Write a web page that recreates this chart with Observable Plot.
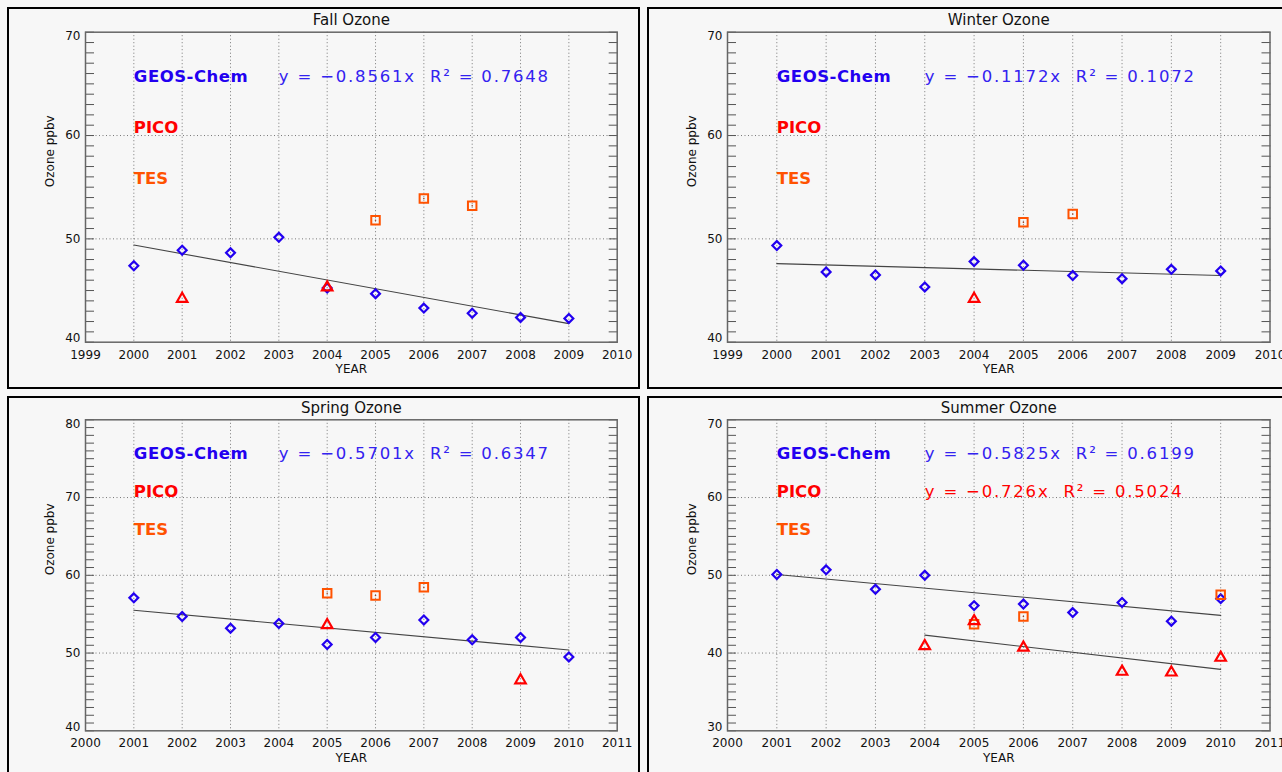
<!DOCTYPE html>
<html><head><meta charset="utf-8">
<script src="https://cdn.jsdelivr.net/npm/d3@7"></script>
<script src="https://cdn.jsdelivr.net/npm/@observablehq/plot@0.6"></script>
<style>
html,body{margin:0;padding:0;background:#f7f7f7;overflow:hidden;width:1282px;height:772px;font-family:"DejaVu Sans",sans-serif;}
.panel{position:absolute;border:2.5px solid #000;box-sizing:border-box;background:#f7f7f7;}
.plot{position:absolute;}
</style></head><body>
<script>
// ---------- DATA ----------
// Fall
const fallGeosYears = [2000,2001,2002,2003,2004,2005,2006,2007,2008,2009];
const fallGeos      = [47.4,48.9,48.65,50.15,45.25,44.7,43.3,42.8,42.4,42.3];
const fallPicoYears = [2001,2004];
const fallPico      = [44.2,45.3];
const fallTesYears  = [2005,2006,2007];
const fallTes       = [51.8,53.9,53.2];
const fallTrendYears = [2000,2009];
const fallTrend      = [49.4,41.8];
// Winter
const winterGeosYears = [2000,2001,2002,2003,2004,2005,2006,2007,2008,2009];
const winterGeos      = [49.35,46.8,46.5,45.35,47.8,47.45,46.45,46.15,47.05,46.9];
const winterPicoYears = [2004];
const winterPico      = [44.2];
const winterTesYears  = [2005,2006];
const winterTes       = [51.6,52.4];
const winterTrendYears = [2000,2009];
const winterTrend      = [47.6,46.45];
// Spring
const springGeosYears = [2001,2002,2003,2004,2005,2006,2007,2008,2009,2010];
const springGeos      = [57.1,54.7,53.2,53.8,51.1,52.0,54.25,51.7,52.0,49.5];
const springPicoYears = [2005,2009];
const springPico      = [53.6,46.5];
const springTesYears  = [2005,2006,2007];
const springTes       = [57.7,57.4,58.45];
const springTrendYears = [2001,2010];
const springTrend      = [55.5,50.4];
// Summer
const summerGeosYears = [2001,2002,2003,2004,2005,2006,2007,2008,2009,2010];
const summerGeos      = [50.1,50.7,48.2,50.0,46.1,46.3,45.2,46.5,44.1,47.0];
const summerPicoYears = [2004,2005,2006,2008,2009,2010];
const summerPico      = [40.9,44.1,40.7,37.6,37.5,39.4];
const summerTesYears  = [2005,2006,2010];
const summerTes       = [43.7,44.7,47.5];
const summerGeosTrendYears = [2001,2010];
const summerGeosTrend      = [50.1,44.85];
const summerPicoTrendYears = [2004,2010];
const summerPicoTrend      = [42.3,37.9];

const titles = ["Fall Ozone","Winter Ozone","Spring Ozone","Summer Ozone"];
const geosEq = ["y = −0.8561x  R² = 0.7648","y = −0.1172x  R² = 0.1072","y = −0.5701x  R² = 0.6347","y = −0.5825x  R² = 0.6199"];
const picoEq = [null,null,null,"y = −0.726x  R² = 0.5024"];
const seriesNames = ["GEOS-Chem","PICO","TES"];

// ---------- STYLE ----------
const BLUE = "#2200f0", BLUE_EQ = "#3322f0", RED = "#ff0000", ORANGE = "#ff5200";
const FONT = "DejaVu Sans";

const zip = (xs, ys) => xs.map((x, i) => ({year: x, value: ys[i]}));

function drawPanel(cfg) {
  const {idx, xDomain, yDomain, geos, pico, tes, trends, box, margin} = cfg;
  const [x0, x1] = xDomain, [y0, y1] = yDomain;
  const div = document.createElement("div");
  div.className = "panel";
  Object.assign(div.style, {left: box[0] + "px", top: box[1] + "px", width: box[2] + "px", height: box[3] + "px"});
  document.body.appendChild(div);

  const minor = d3.range(y0, y1 + 1);
  const midMajor = d3.range(y0 + 10, y1, 10);
  const labelAt = (k) => y1 - [4.3, 9.2, 14.2][k];
  const names = seriesNames.map((n, k) => ({name: n, y: labelAt(k), color: [BLUE, RED, ORANGE][k]}));
  const eqs = [{t: geosEq[idx], y: labelAt(0), color: BLUE_EQ}];
  if (picoEq[idx]) eqs.push({t: picoEq[idx], y: labelAt(1), color: RED});

  const svg = Plot.plot({
    width: box[2], height: box[3],
    marginLeft: margin[0], marginRight: margin[1], marginTop: margin[2], marginBottom: margin[3],
    style: {background: "transparent", fontFamily: FONT, color: "#111"},
    x: {domain: xDomain, axis: null},
    y: {domain: yDomain, axis: null},
    marks: [
      Plot.gridX(d3.range(x0 + 1, x1), {stroke: "#777", strokeOpacity: 1, strokeDasharray: "1,2.5"}),
      Plot.gridY(midMajor, {stroke: "#777", strokeOpacity: 1, strokeDasharray: "1,2.5"}),
      Plot.axisY(minor, {anchor: "left", tickSize: -9, text: null, stroke: "#555", label: null}),
      Plot.axisY(minor, {anchor: "right", tickSize: -9, text: null, stroke: "#555", label: null}),
      Plot.axisY(midMajor, {anchor: "left", tickSize: 0, tickPadding: 5, fontSize: 12, label: null, fill: "#111"}),
      Plot.axisY([y1], {anchor: "left", tickSize: 0, tickPadding: 5, fontSize: 12, label: null, dy: 4, fill: "#111"}),
      Plot.axisY([y0], {anchor: "left", tickSize: 0, tickPadding: 5, fontSize: 12, label: null, dy: -4, fill: "#111"}),
      Plot.axisX(d3.range(x0, x1 + 1), {anchor: "bottom", tickSize: 0, tickPadding: 8, fontSize: 12, label: null, tickFormat: d => String(d), fill: "#111"}),
      Plot.frame({stroke: "#666", strokeWidth: 1.5}),
      Plot.text([titles[idx]], {frameAnchor: "top", dy: -12, lineAnchor: "middle", fontSize: 15, fill: "#111"}),
      Plot.text(["YEAR"], {frameAnchor: "bottom", dy: 27, lineAnchor: "middle", fontSize: 12, fill: "#111"}),
      Plot.text(["Ozone ppbv"], {frameAnchor: "left", dx: -35, rotate: -90, lineAnchor: "middle", fontSize: 12, fill: "#111"}),
      ...trends.map(t => Plot.line(t, {x: "year", y: "value", stroke: "#444", strokeWidth: 1.1})),
      Plot.dot(geos, {x: "year", y: "value", symbol: "diamond2", r: 4, stroke: BLUE, strokeWidth: 2.2}),
      Plot.dot(tes, {x: "year", y: "value", symbol: "square2", r: 5.4, stroke: ORANGE, strokeWidth: 2}),
      Plot.dot(tes, {x: "year", y: "value", r: 0.8, fill: "#a04020"}),
      Plot.dot(pico, {x: "year", y: "value", symbol: "triangle2", r: 5, stroke: RED, strokeWidth: 2.2}),
      Plot.text(names, {x: () => x0 + 1, y: "y", text: "name", fill: "color", textAnchor: "start", fontSize: 16.5, fontWeight: "bold", lineAnchor: "middle"}),
      Plot.text(eqs, {x: () => x0 + 4, y: "y", text: "t", fill: "color", textAnchor: "start", fontSize: 16.5, lineAnchor: "middle"})
    ]
  });
  svg.classList.add("plot");
  Object.assign(svg.style, {left: box[0] + "px", top: box[1] + "px"});
  svg.querySelectorAll("text").forEach(t => {
    const s = t.textContent;
    if (s.startsWith("y =")) t.setAttribute("letter-spacing", "1.8");
    if (s === "GEOS-Chem") t.setAttribute("letter-spacing", "0.5");
  });
  document.body.appendChild(svg);
}

drawPanel({idx: 0, xDomain: [1999, 2010], yDomain: [40, 70],
  geos: zip(fallGeosYears, fallGeos), pico: zip(fallPicoYears, fallPico), tes: zip(fallTesYears, fallTes),
  trends: [zip(fallTrendYears, fallTrend)],
  box: [7, 7, 633, 382], margin: [78, 23.3, 24.7, 47.3]});
drawPanel({idx: 1, xDomain: [1999, 2010], yDomain: [40, 70],
  geos: zip(winterGeosYears, winterGeos), pico: zip(winterPicoYears, winterPico), tes: zip(winterTesYears, winterTes),
  trends: [zip(winterTrendYears, winterTrend)],
  box: [647, 7, 640, 382], margin: [80, 17.5, 24.7, 47.3]});
drawPanel({idx: 2, xDomain: [2000, 2011], yDomain: [40, 80],
  geos: zip(springGeosYears, springGeos), pico: zip(springPicoYears, springPico), tes: zip(springTesYears, springTes),
  trends: [zip(springTrendYears, springTrend)],
  box: [7, 396, 633, 382], margin: [78, 23.3, 23.3, 47.7]});
drawPanel({idx: 3, xDomain: [2000, 2011], yDomain: [30, 70],
  geos: zip(summerGeosYears, summerGeos), pico: zip(summerPicoYears, summerPico), tes: zip(summerTesYears, summerTes),
  trends: [zip(summerGeosTrendYears, summerGeosTrend), zip(summerPicoTrendYears, summerPicoTrend)],
  box: [647, 396, 640, 382], margin: [80, 17.5, 23.3, 47.7]});
</script>
</body></html>
